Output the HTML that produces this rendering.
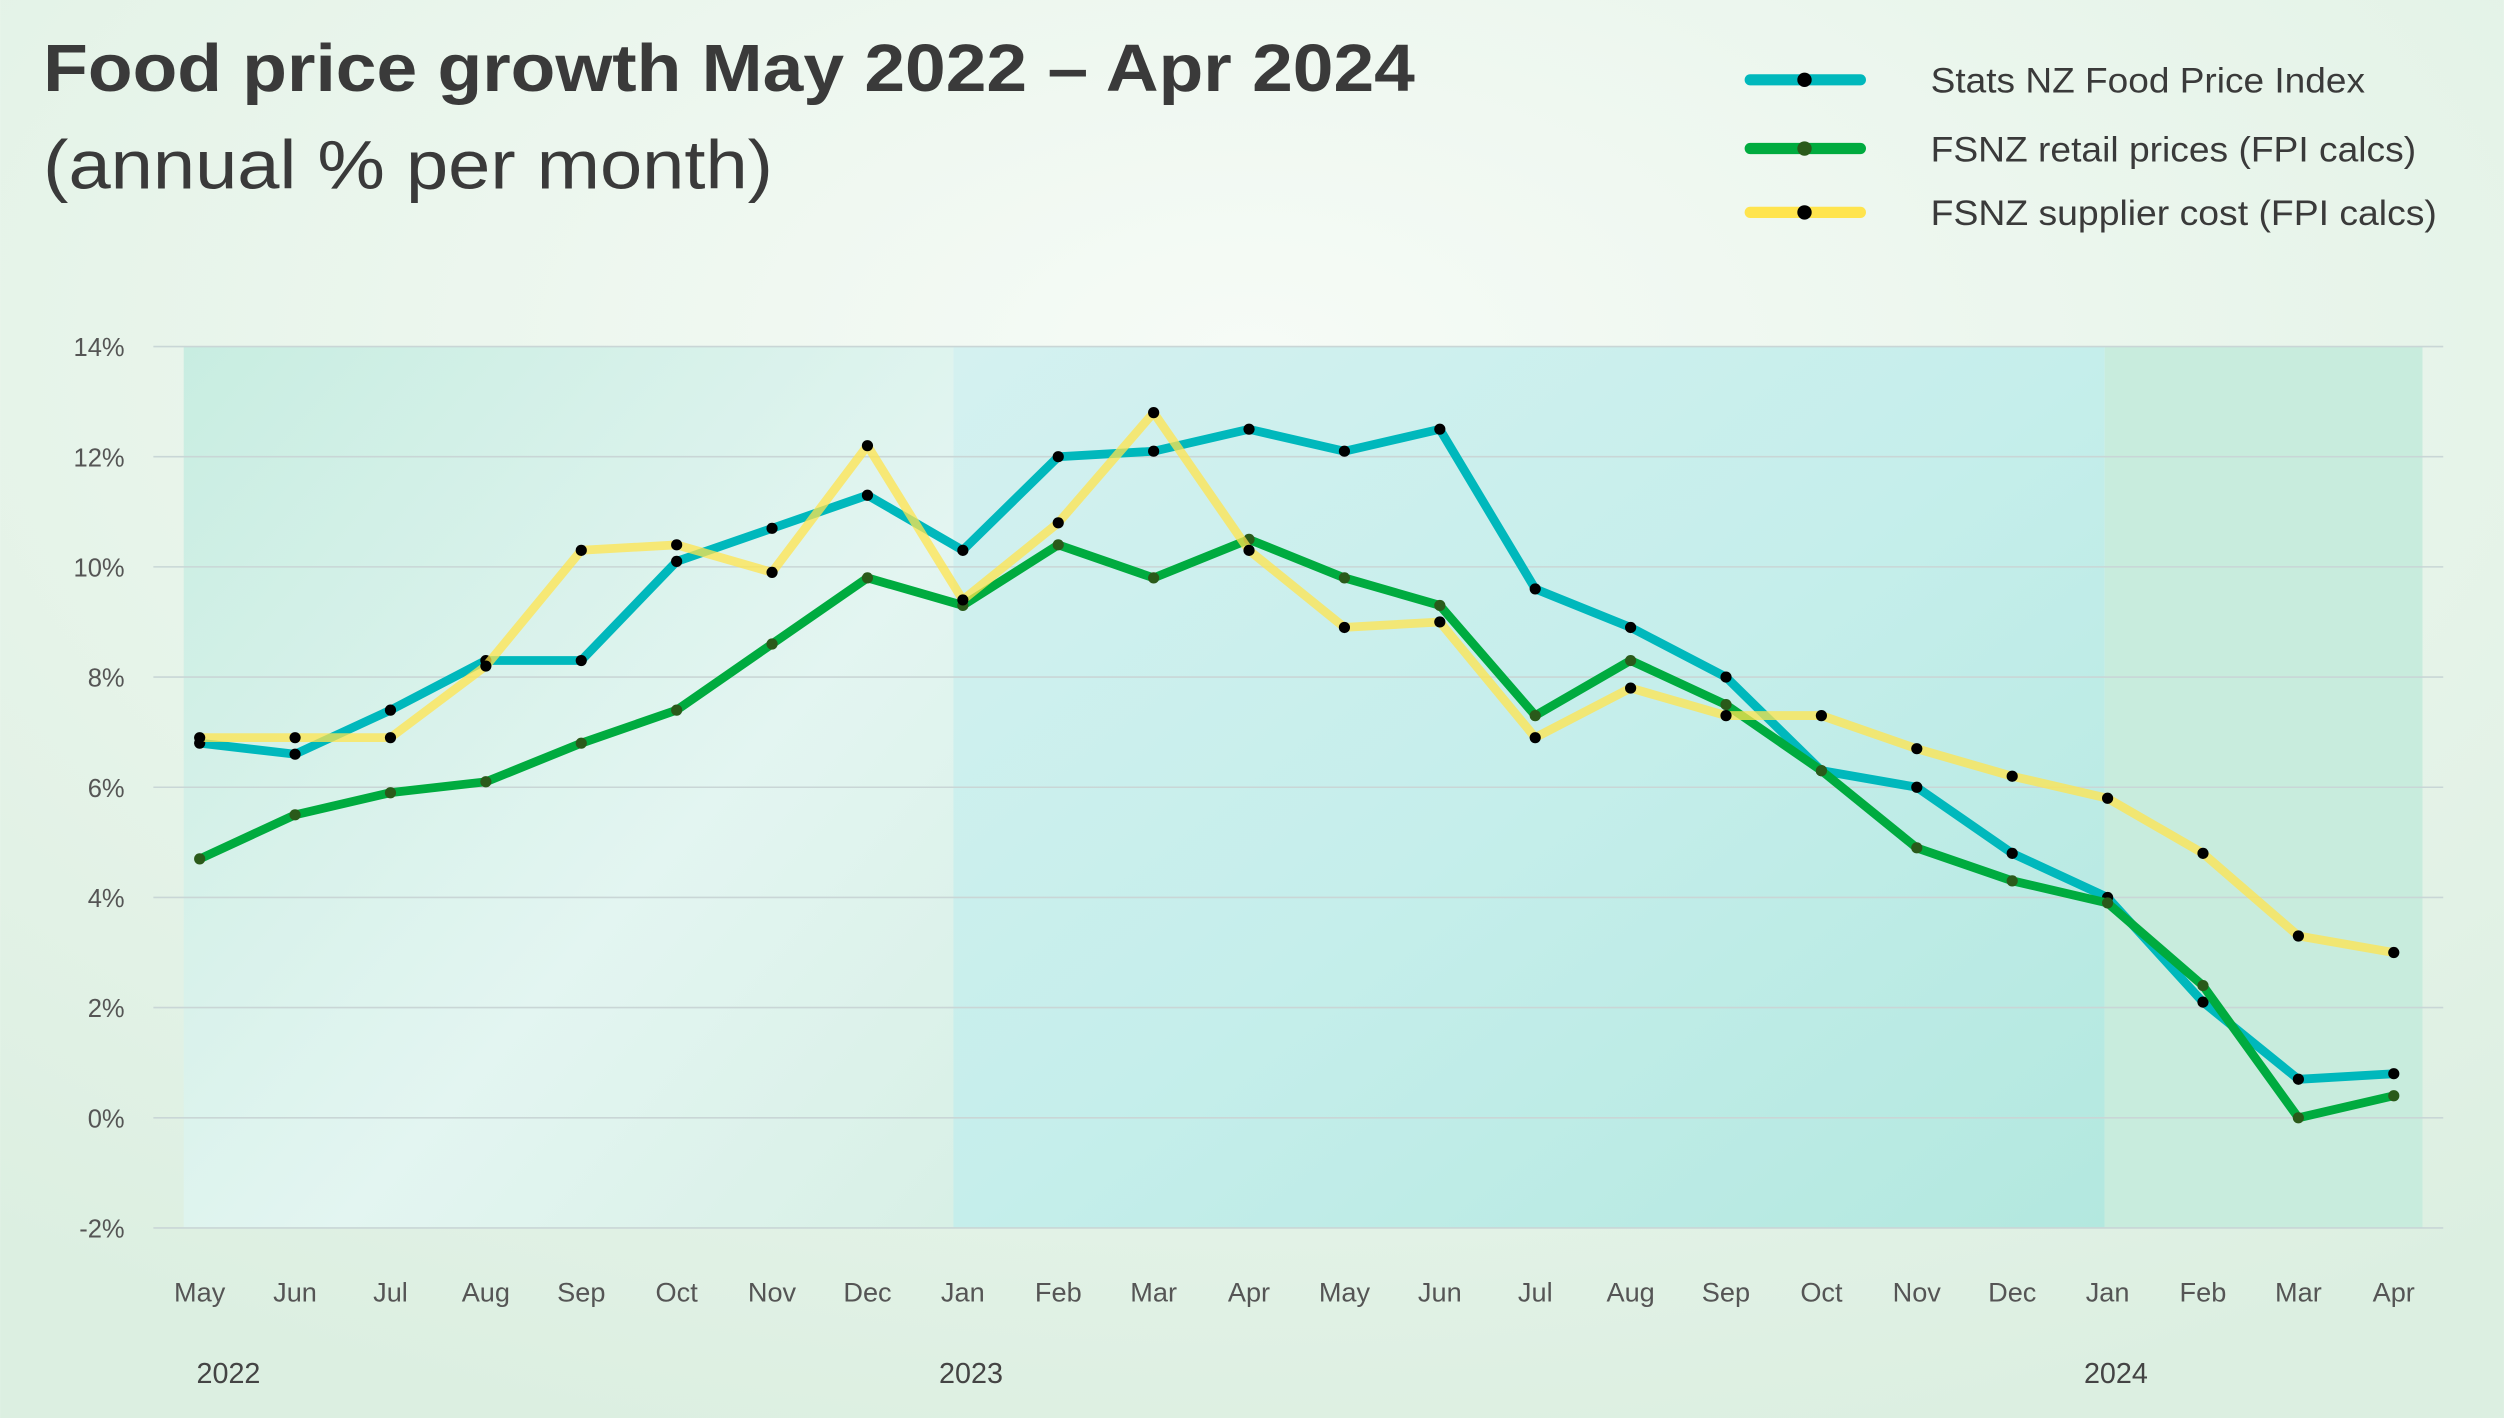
<!DOCTYPE html>
<html><head><meta charset="utf-8"><style>
html,body{margin:0;padding:0;width:2504px;height:1418px;overflow:hidden}
svg{display:block}
text{font-family:"Liberation Sans",sans-serif}
</style></head><body>
<svg id="s" width="2504" height="1418" viewBox="0 0 1568 888" xmlns="http://www.w3.org/2000/svg">
<defs>
<radialGradient id="bg" cx="0.5" cy="0.25" r="0.8">
<stop offset="0" stop-color="#f6fbf6"/><stop offset="1" stop-color="#dcefe1"/>
</radialGradient>
<linearGradient id="b1" x1="0" y1="0" x2="1" y2="1">
<stop offset="0" stop-color="#c8ede1"/><stop offset="0.6" stop-color="#e3f5f1"/><stop offset="1" stop-color="#d8f0e6"/>
</linearGradient>
<linearGradient id="b2" x1="0" y1="0" x2="1" y2="1">
<stop offset="0" stop-color="#d4f1f0"/><stop offset="0.5" stop-color="#c5eeeb"/><stop offset="1" stop-color="#b3e8df"/>
</linearGradient>
</defs>
<rect width="1568" height="888" fill="url(#bg)"/>
<rect x="115" y="217" width="482" height="552" fill="url(#b1)"/>
<rect x="597" y="217" width="721" height="552" fill="url(#b2)"/>
<rect x="1318" y="217" width="199" height="552" fill="#c8ecdd"/>
<g stroke="#c9d6d6" stroke-width="1">
<line x1="96" x2="1530" y1="217" y2="217"/><line x1="96" x2="1530" y1="286" y2="286"/>
<line x1="96" x2="1530" y1="355" y2="355"/><line x1="96" x2="1530" y1="424" y2="424"/>
<line x1="96" x2="1530" y1="493" y2="493"/><line x1="96" x2="1530" y1="562" y2="562"/>
<line x1="96" x2="1530" y1="631" y2="631"/><line x1="96" x2="1530" y1="700" y2="700"/>
<line x1="96" x2="1530" y1="769" y2="769"/>
</g>
<g font-size="16" fill="#555" text-anchor="end">
<text x="78" y="223">14%</text><text x="78" y="292">12%</text><text x="78" y="361">10%</text>
<text x="78" y="430">8%</text><text x="78" y="499">6%</text><text x="78" y="568">4%</text>
<text x="78" y="637">2%</text><text x="78" y="706">0%</text><text x="78" y="775">-2%</text>
</g>
<g font-size="17" fill="#555" text-anchor="middle">
<text x="125" y="815">May</text><text x="184.7" y="815">Jun</text><text x="244.5" y="815">Jul</text><text x="304.2" y="815">Aug</text>
<text x="364" y="815">Sep</text><text x="423.7" y="815">Oct</text><text x="483.4" y="815">Nov</text><text x="543.2" y="815">Dec</text>
<text x="602.9" y="815">Jan</text><text x="662.7" y="815">Feb</text><text x="722.4" y="815">Mar</text><text x="782.1" y="815">Apr</text>
<text x="841.9" y="815">May</text><text x="901.6" y="815">Jun</text><text x="961.4" y="815">Jul</text><text x="1021.1" y="815">Aug</text>
<text x="1080.8" y="815">Sep</text><text x="1140.6" y="815">Oct</text><text x="1200.3" y="815">Nov</text><text x="1260.1" y="815">Dec</text>
<text x="1319.8" y="815">Jan</text><text x="1379.5" y="815">Feb</text><text x="1439.3" y="815">Mar</text><text x="1499" y="815">Apr</text>
</g>
<g font-size="18" fill="#444">
<text x="123" y="866">2022</text><text x="588" y="866">2023</text><text x="1305" y="866">2024</text>
</g>
<text x="27" y="57" font-size="42" font-weight="bold" fill="#3a3a3a" textLength="859" lengthAdjust="spacingAndGlyphs">Food price growth May 2022 – Apr 2024</text>
<text x="27" y="118" font-size="43" fill="#3a3a3a" textLength="457" lengthAdjust="spacingAndGlyphs">(annual % per month)</text>
<g stroke-width="7" stroke-linecap="round">
<line x1="1096" x2="1165" y1="50" y2="50" stroke="#00b8bc"/>
<line x1="1096" x2="1165" y1="93" y2="93" stroke="#00ab3f"/>
<line x1="1096" x2="1165" y1="133" y2="133" stroke="#ffe44d"/>
</g>
<circle cx="1130" cy="50" r="4.5" fill="#000"/><circle cx="1130" cy="93" r="4.5" fill="#2a5a1a"/><circle cx="1130" cy="133" r="4.5" fill="#000"/>
<g font-size="22" fill="#3a3a3a">
<text x="1209" y="58" textLength="272" lengthAdjust="spacingAndGlyphs">Stats NZ Food Price Index</text>
<text x="1209" y="101" textLength="304" lengthAdjust="spacingAndGlyphs">FSNZ retail prices (FPI calcs)</text>
<text x="1209" y="141" textLength="317" lengthAdjust="spacingAndGlyphs">FSNZ supplier cost (FPI calcs)</text>
</g>
<g id="series"></g>
</svg>
<script>
var A=[6.8,6.6,7.4,8.3,8.3,10.1,10.7,11.3,10.3,12.0,12.1,12.5,12.1,12.5,9.6,8.9,8.0,6.3,6.0,4.8,4.0,2.1,0.7,0.8];
var B=[4.7,5.5,5.9,6.1,6.8,7.4,8.6,9.8,9.3,10.4,9.8,10.5,9.8,9.3,7.3,8.3,7.5,6.3,4.9,4.3,3.9,2.4,0.0,0.4];
var C=[6.9,6.9,6.9,8.2,10.3,10.4,9.9,12.2,9.4,10.8,12.8,10.3,8.9,9.0,6.9,7.8,7.3,7.3,6.7,6.2,5.8,4.8,3.3,3.0];
var g=document.getElementById('series'),ns='http://www.w3.org/2000/svg';
function draw(d,col,dot,op){var p=d.map(function(v,i){return (125+59.74*i).toFixed(1)+','+(700-34.5*v).toFixed(1)}).join(' ');
var l=document.createElementNS(ns,'polyline');l.setAttribute('points',p);l.setAttribute('fill','none');l.setAttribute('stroke',col);
l.setAttribute('stroke-width','5.5');l.setAttribute('stroke-linejoin','round');l.setAttribute('opacity',op);g.appendChild(l);
d.forEach(function(v,i){var c=document.createElementNS(ns,'circle');c.setAttribute('cx',125+59.74*i);c.setAttribute('cy',700-34.5*v);c.setAttribute('r','3.5');c.setAttribute('fill',dot);g.appendChild(c);});}
draw(A,'#00b8bc','#000',1);draw(B,'#00ab3f','#2a5a1a',1);draw(C,'#ffe44d','#000',0.75);
</script>
</body></html>
